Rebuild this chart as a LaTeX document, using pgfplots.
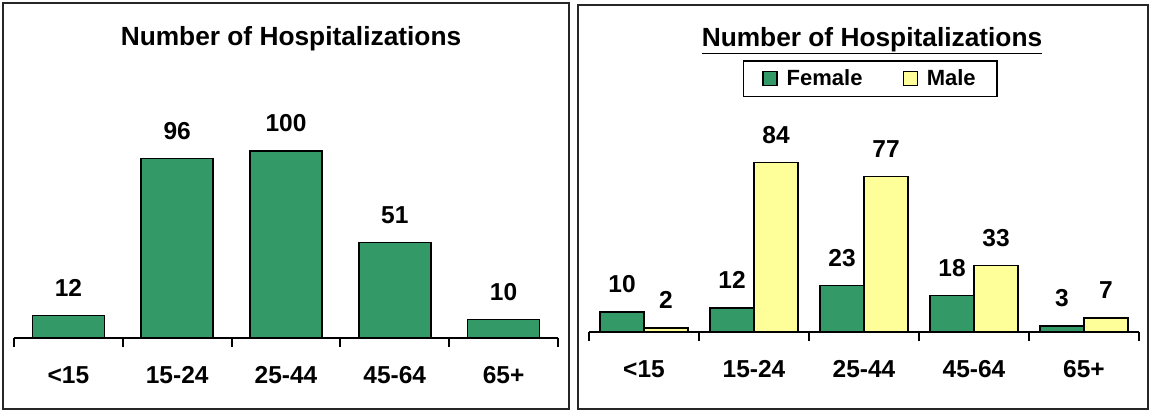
\documentclass[border=0pt]{standalone}
\usepackage{fontspec}
\setmainfont{Liberation Sans}
\usepackage{pgfplots}
\pgfplotsset{compat=1.18}
\definecolor{sgreen}{RGB}{51,153,102}
\definecolor{lyellow}{RGB}{255,255,153}
\pgfplotsset{hosp/.style={
  scale only axis,
  axis x line*=bottom,
  axis y line=none,
  axis line style={line width=2pt, black},
  xmin=-0.5, xmax=4.5, ymin=0,
  xtick={0,1,2,3,4},
  xticklabels={<15,15-24,25-44,45-64,65+},
  minor xtick={-0.5,0.5,1.5,2.5,3.5,4.5},
  major tick length=0pt,
  minor tick length=9pt,
  tick align=outside,
  minor tick style={line width=2pt, black},
  xticklabel style={font=\fontsize{24.5}{28}\selectfont\bfseries, anchor=base, yshift=-46pt, inner sep=0pt},
  nodes near coords,
  /pgf/number format/assume math mode=true,
  every node near coord/.append style={font=\fontsize{24.5}{28}\selectfont\bfseries, anchor=base, yshift=19pt, inner sep=0pt},
  clip=false,
}}
\begin{document}
\begin{tikzpicture}[x=1pt,y=1pt]
\useasboundingbox (0,0) rectangle (1150,411);
\draw[line width=2pt, black!85] (3,2) rectangle (569,408);
\draw[line width=2pt, black!85] (578,2) rectangle (1148,406);

\begin{axis}[hosp,
  at={(14pt,73pt)}, anchor=south west,
  width=544pt, height=261.8pt, ymax=140,
  ybar, bar width=72pt,
  title={Number of Hospitalizations},
  every axis title/.style={at={(0.5,1)}, anchor=base, yshift=31pt, xshift=5pt, font=\fontsize{26.3}{30}\selectfont\bfseries},
]
\addplot[fill=sgreen, draw=black, line width=1.5pt] coordinates {(0,12) (1,96) (2,100) (3,51) (4,10)};
\end{axis}

\begin{axis}[hosp,
  at={(589pt,79pt)}, anchor=south west,
  width=550pt, height=222.2pt, ymax=110,
  ybar=0pt, bar width=44pt,
  title={\underline{Number of Hospitalizations}},
  every axis title/.style={at={(0.5,1)}, anchor=base, yshift=63pt, xshift=8pt, font=\fontsize{26.3}{30}\selectfont\bfseries},
  legend columns=2,
  legend style={at={(0.511,1.14)}, anchor=center, draw=black, line width=1.6pt,
    font=\fontsize{22}{26}\selectfont\bfseries, inner xsep=19pt, inner ysep=7pt,
    /tikz/every odd column/.append style={column sep=7pt},
    /tikz/every even column/.append style={column sep=38pt}},
]
\addplot[fill=sgreen, draw=black, line width=1.5pt,
  legend image code/.code={\draw[fill=sgreen, draw=black, line width=1.3pt] (0pt,-7pt) rectangle (14pt,7pt);}]
  coordinates {(0,10) (1,12) (2,23) (3,18) (4,3)};
\addplot[fill=lyellow, draw=black, line width=1.5pt,
  legend image code/.code={\draw[fill=lyellow, draw=black, line width=1.3pt] (0pt,-7pt) rectangle (14pt,7pt);}]
  coordinates {(0,2) (1,84) (2,77) (3,33) (4,7)};
\legend{Female,Male}
\end{axis}
\end{tikzpicture}
\end{document}
